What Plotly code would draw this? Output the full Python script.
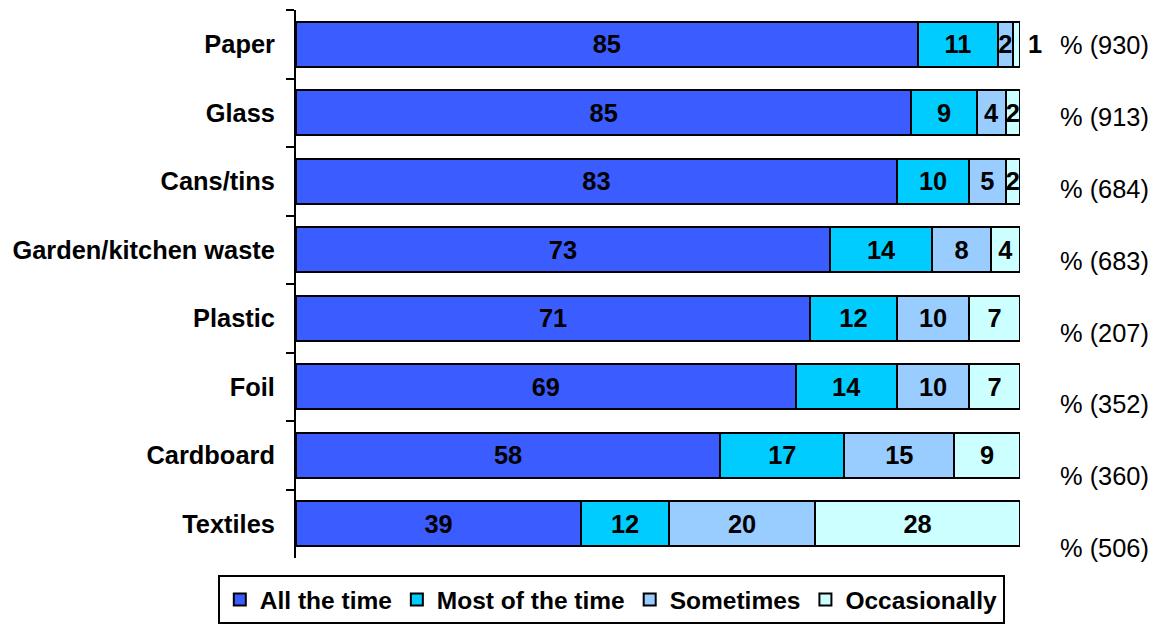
import plotly.graph_objects as go

categories = ["Paper", "Glass", "Cans/tins", "Garden/kitchen waste", "Plastic", "Foil", "Cardboard", "Textiles"]
all_the_time = [85, 85, 83, 73, 71, 69, 58, 39]
most_of_the_time = [11, 9, 10, 14, 12, 14, 17, 12]
sometimes = [2, 4, 5, 8, 10, 10, 15, 20]
occasionally = [1, 2, 2, 4, 7, 7, 9, 28]
base_n = [930, 913, 684, 683, 207, 352, 360, 506]

series = [
    ("All the time", all_the_time, "#3B5CFF"),
    ("Most of the time", most_of_the_time, "#00CCFF"),
    ("Sometimes", sometimes, "#99CCFF"),
    ("Occasionally", occasionally, "#CCFFFF"),
]

FONT = "Liberation Sans, Arial, sans-serif"
FS = 25.4

fig = go.Figure()
for name, vals, color in series:
    # values too narrow to hold a label inside the bar are written outside
    texts = ["" if v < 2 else str(v) for v in vals]
    fig.add_trace(go.Bar(
        y=categories, x=vals, name=name, orientation="h",
        marker=dict(color=color, line=dict(color="black", width=2)),
        text=texts, textposition="inside", insidetextanchor="middle",
        textfont=dict(family=FONT, size=FS, color="black", weight="bold"),
        hoverinfo="skip",
    ))

annotations = []
# outside labels for tiny segments
for name, vals, color in series:
    for cat, v in zip(categories, vals):
        if v < 2:
            annotations.append(dict(
                x=100, y=cat, xref="x", yref="y", text=str(v), showarrow=False,
                xshift=15, font=dict(family=FONT, size=FS, color="black", weight="bold")))

# base sizes on the right
top, bottom = 0.936, 0.018
step = (top - bottom) / (len(categories) - 1)
for i, n in enumerate(base_n):
    annotations.append(dict(
        x=1.0525, y=top - i * step, xref="paper", yref="paper", xanchor="left", yanchor="middle",
        text=f"% ({n})", showarrow=False,
        font=dict(family=FONT, size=FS, color="black")))

# the page body adds an 8px margin, so the figure is 8px smaller
fig.update_layout(
    barmode="stack", barnorm="percent", bargap=0.343,
    width=1150, height=618,
    margin=dict(l=288, r=138, t=2, b=68, autoexpand=False),
    plot_bgcolor="white", paper_bgcolor="white",
    showlegend=True,
    legend=dict(
        orientation="h", x=-0.108, y=-0.031, xanchor="left", yanchor="top",
        bordercolor="black", borderwidth=2, bgcolor="white",
        font=dict(family=FONT, size=24.5, color="black", weight="bold"),
        traceorder="normal", itemclick=False, itemdoubleclick=False,
    ),
    annotations=annotations,
    uniformtext=dict(mode="show", minsize=FS),
)
fig.update_xaxes(range=[0, 100], visible=False, fixedrange=True, automargin=False)
fig.update_yaxes(
    type="category", categoryorder="array", categoryarray=categories, autorange="reversed",
    tickson="boundaries", ticks="outside", ticklen=8, tickwidth=2, tickcolor="black",
    showline=True, linecolor="black", linewidth=2, showgrid=False, zeroline=False,
    ticklabelstandoff=14, automargin=False,
    tickfont=dict(family=FONT, size=FS, color="black", weight="bold"),
    fixedrange=True,
)

fig.write_html("out.html")
